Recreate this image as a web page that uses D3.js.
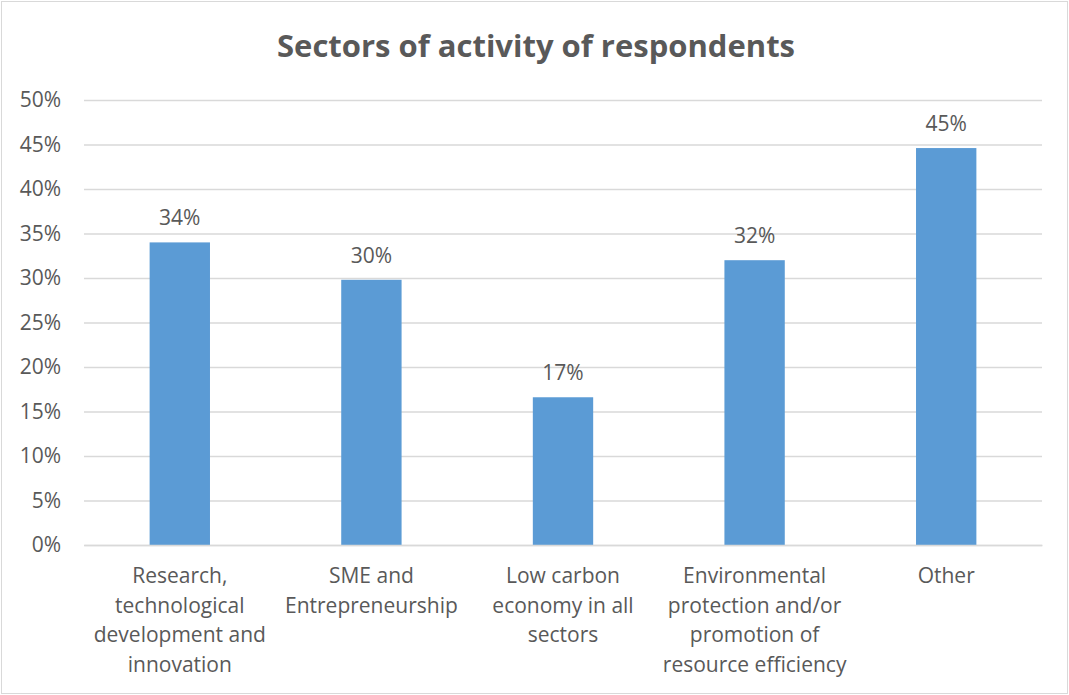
<!DOCTYPE html>
<html>
<head>
<meta charset="utf-8">
<script src="https://cdn.jsdelivr.net/npm/d3@7"></script>
<style>
  html, body { margin: 0; padding: 0; background: #fff; }
  svg { display: block; }
  text { font-family: "Open Sans", "Noto Sans", sans-serif; fill: #595959; }
</style>
</head>
<body>
<svg id="chart" width="1069" height="695"></svg>
<script>
// Share of respondents per sector of activity
const categories = [
  ["Research,", "technological", "development and", "innovation"],
  ["SME and", "Entrepreneurship"],
  ["Low carbon", "economy in all", "sectors"],
  ["Environmental", "protection and/or", "promotion of", "resource efficiency"],
  ["Other"]
];
const values = [0.340, 0.298, 0.166, 0.320, 0.446];
const yTicks = [0, 0.05, 0.10, 0.15, 0.20, 0.25, 0.30, 0.35, 0.40, 0.45, 0.50];
const title = "Sectors of activity of respondents";

const svg = d3.select("#chart");
const W = 1069, H = 695;
const margin = { left: 84, right: 27, top: 100, bottom: 150 };

// outer frame
svg.append("rect")
  .attr("x", 1.5).attr("y", 1.5)
  .attr("width", W - 3).attr("height", H - 3)
  .attr("fill", "#fff").attr("stroke", "#D9D9D9").attr("stroke-width", 1);

const keys = categories.map((c, i) => i);
const x = d3.scaleBand().domain(keys).range([margin.left, W - margin.right]).padding(0);
const y = d3.scaleLinear().domain([0, 0.5]).range([H - margin.bottom, margin.top]);

// title
svg.append("text")
  .attr("x", 536).attr("y", 57)
  .attr("text-anchor", "middle")
  .style("font-size", "31px").style("font-weight", "bold")
  .text(title);

// gridlines
const yAxis = d3.axisLeft(y).tickValues(yTicks)
  .tickFormat(d3.format(".0%"))
  .tickSize(-(W - margin.left - margin.right))
  .tickPadding(23);
const gy = svg.append("g").attr("transform", `translate(${margin.left},0)`).call(yAxis);
gy.select(".domain").remove();
gy.selectAll(".tick line").attr("stroke", "#D9D9D9").attr("stroke-width", 1.3);
gy.selectAll(".tick text").style("font-size", "21px").attr("fill", "#595959");

// bars
const barW = x.bandwidth() * 0.315;
svg.append("g").selectAll("rect").data(values).join("rect")
  .attr("x", (d, i) => x(i) + x.bandwidth() / 2 - barW / 2)
  .attr("y", d => y(d))
  .attr("width", barW)
  .attr("height", d => y(0) - y(d))
  .attr("fill", "#5B9BD5");

// value labels
svg.append("g").selectAll("text").data(values).join("text")
  .attr("x", (d, i) => x(i) + x.bandwidth() / 2)
  .attr("y", d => y(d) - 17)
  .attr("text-anchor", "middle")
  .style("font-size", "21px")
  .text(d => d3.format(".0%")(d));

// category labels
const xAxis = d3.axisBottom(x).tickSize(0).tickFormat("");
const gx = svg.append("g").attr("transform", `translate(0,${y(0)})`).call(xAxis);
gx.select(".domain").attr("stroke", "#D9D9D9").attr("stroke-width", 1.3);
gx.selectAll(".tick").each(function(d) {
  const t = d3.select(this).append("text")
    .attr("text-anchor", "middle")
    .style("font-size", "21px");
  categories[d].forEach((line, j) => {
    t.append("tspan").attr("x", 0).attr("y", 38 + j * 29.5).text(line);
  });
});
</script>
</body>
</html>
